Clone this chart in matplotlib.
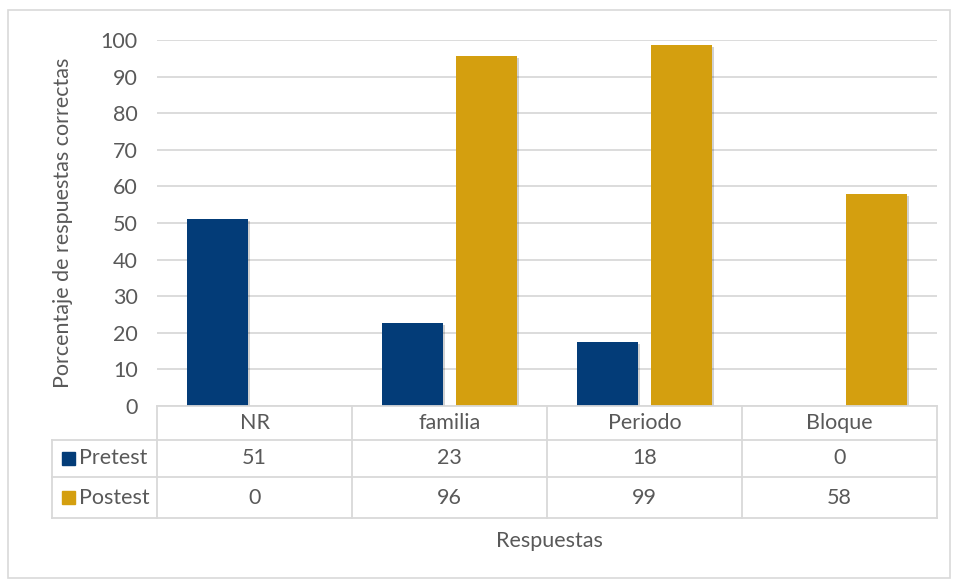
import matplotlib.pyplot as plt
import matplotlib.patheffects as pe
from matplotlib.patches import Rectangle
import numpy as np

plt.rcParams['font.family'] = ['Lato', 'DejaVu Sans']

# data
categories = ['NR', 'familia', 'Periodo', 'Bloque']
series = ['Pretest', 'Postest']
pretest = [51.2, 22.7, 17.5, 0]
postest = [0, 95.7, 98.6, 58.0]
colors = ['#033C78', '#D49F0F']

W, H = 958, 580
fig = plt.figure(figsize=(W / 100, H / 100), dpi=100)
txt = '#595959'
grid = '#D9D9D9'
fs = 15.5

def box(x0, y0, x1, y1):
    # pixel box (top-left origin) -> figure fraction rect
    return [x0 / W, 1 - y1 / H, (x1 - x0) / W, (y1 - y0) / H]

# outer chart border
fig.patches.append(Rectangle((8 / W, 1 - 578 / H), 942 / W, 568 / H,
                             transform=fig.transFigure, fill=False,
                             edgecolor=grid, lw=1.2))

ax = fig.add_axes(box(157, 40, 937, 406))
x = np.arange(len(categories))
off = 0.19
w = 0.31
shadow = [pe.SimplePatchShadow(offset=(1.5, -1.5), shadow_rgbFace='#000000', alpha=0.18), pe.Normal()]
b1 = ax.bar(x - off, pretest, w, color=colors[0], zorder=3)
b2 = ax.bar(x + off, postest, w, color=colors[1], zorder=3)
for b in list(b1) + list(b2):
    if b.get_height() > 0:
        b.set_path_effects(shadow)
ax.set_xlim(-0.5, 3.5)
ax.set_ylim(0, 100)
ax.set_yticks(range(0, 101, 10))
ax.yaxis.grid(True, color=grid, lw=1.3, zorder=0)
ax.set_xticks([])
for s in ax.spines.values():
    s.set_visible(False)
ax.tick_params(axis='y', length=0, pad=14, labelsize=fs, labelcolor=txt)
ax.set_ylabel('Porcentaje de respuestas correctas', fontsize=fs, color=txt, labelpad=20)

# data table below the plot
tax = fig.add_axes(box(52, 406, 937, 518))
left = -0.5 - 105 / 195
tax.set_xlim(left, 3.5)
rows_px = [406, 440, 477, 518]
tax.set_ylim(518, 406)
tax.axis('off')
lc = grid
lw = 1.3
# horizontal lines
tax.plot([-0.5, 3.5], [406, 406], color=lc, lw=lw, clip_on=False)
for yv in rows_px[1:]:
    tax.plot([left, 3.5], [yv, yv], color=lc, lw=lw, clip_on=False)
# vertical lines
for xv in np.arange(-0.5, 3.6, 1):
    tax.plot([xv, xv], [406, 518], color=lc, lw=lw, clip_on=False)
tax.plot([left, left], [440, 518], color=lc, lw=lw, clip_on=False)

for i, c in enumerate(categories):
    tax.text(i, (rows_px[0] + rows_px[1]) / 2, c, ha='center', va='center', fontsize=fs, color=txt)
for r, (name, vals, col) in enumerate(zip(series, [pretest, postest], colors)):
    yc = (rows_px[r + 1] + rows_px[r + 2]) / 2
    for i, v in enumerate(vals):
        tax.text(i, yc, f'{v:.0f}', ha='center', va='center', fontsize=fs, color=txt)
    tax.add_patch(Rectangle((left + 10 / 195, yc - 6.5), 13 / 195, 13, color=col, clip_on=False))
    tax.text(left + 27 / 195, yc, name, ha='left', va='center', fontsize=fs, color=txt)

fig.text(549 / W, 1 - 541 / H, 'Respuestas', ha='center', va='center', fontsize=fs, color=txt)

fig.savefig('out.png', dpi=100)
